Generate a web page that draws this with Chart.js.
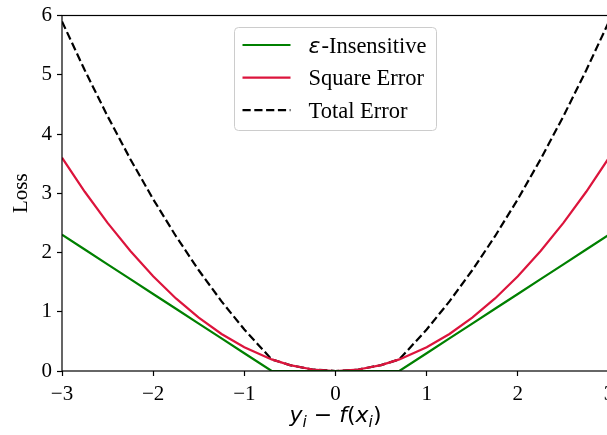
<!DOCTYPE html>
<html>
<head>
<meta charset="utf-8">
<script src="https://cdn.jsdelivr.net/npm/chart.js@4.4.1/dist/chart.umd.min.js"></script>
<style>
  html, body { margin: 0; padding: 0; background: #fff; overflow: hidden; }
  #wrap { width: 630px; height: 435px; }
</style>
</head>
<body>
<div id="wrap"><canvas id="c" width="630" height="435"></canvas></div>
<script>
// Residual values y - f(x) at which the losses are evaluated
const residuals = [-3, -2.75, -2.5, -2.25, -2, -1.75, -1.5, -1.25, -1, -0.7, -0.5, -0.25, 0,
                   0.25, 0.5, 0.7, 1, 1.25, 1.5, 1.75, 2, 2.25, 2.5, 2.75, 3];
// epsilon-insensitive loss (flat inside the tube |r| < 0.7)
const epsInsensitive = [2.3, 2.05, 1.8, 1.55, 1.3, 1.05, 0.8, 0.55, 0.3, 0, 0, 0, 0,
                        0, 0, 0, 0.3, 0.55, 0.8, 1.05, 1.3, 1.55, 1.8, 2.05, 2.3];
// square error term
const squareError = [3.6, 3.025, 2.5, 2.025, 1.6, 1.225, 0.9, 0.625, 0.4, 0.196, 0.1, 0.025, 0,
                     0.025, 0.1, 0.196, 0.4, 0.625, 0.9, 1.225, 1.6, 2.025, 2.5, 3.025, 3.6];
// total error (sum of both terms)
const totalError = [5.9, 5.075, 4.3, 3.575, 2.9, 2.275, 1.7, 1.175, 0.7, 0.196, 0.1, 0.025, 0,
                    0.025, 0.1, 0.196, 0.7, 1.175, 1.7, 2.275, 2.9, 3.575, 4.3, 5.075, 5.9];
const seriesLabels = ['ε-Insensitive', 'Square Error', 'Total Error'];
const xTickLabels = ['−3', '−2', '−1', '0', '1', '2', '3'];
const yTickLabels = ['0', '1', '2', '3', '4', '5', '6'];

const SERIF = "'Liberation Serif', 'Times New Roman', serif";
const SANS = "'DejaVu Sans', sans-serif";

const points = vals => residuals.map((r, i) => ({ x: r, y: vals[i] }));

// Axes frame drawn above the lines
const framePlugin = {
  id: 'frame',
  afterDatasetsDraw(chart) {
    const { ctx, chartArea: a } = chart;
    ctx.save();
    ctx.strokeStyle = '#000';
    ctx.lineWidth = 1.2;
    ctx.strokeRect(a.left, a.top, a.right - a.left, a.bottom - a.top);
    ctx.restore();
  }
};

// Legend box in the upper centre of the plot area
const legendPlugin = {
  id: 'boxLegend',
  afterDatasetsDraw(chart) {
    const { ctx, chartArea: a } = chart;
    const w = 202, h = 103;
    const x = (a.left + a.right) / 2 - w / 2;
    const y = a.top + 12;
    ctx.save();
    ctx.beginPath();
    ctx.roundRect(x, y, w, h, 4);
    ctx.fillStyle = 'rgba(255,255,255,0.8)';
    ctx.fill();
    ctx.strokeStyle = '#cccccc';
    ctx.lineWidth = 1;
    ctx.stroke();
    chart.data.datasets.forEach((ds, i) => {
      const cy = y + 17.5 + i * 32.6;
      ctx.beginPath();
      ctx.setLineDash(ds.borderDash || []);
      ctx.strokeStyle = ds.borderColor;
      ctx.lineWidth = ds.borderWidth;
      ctx.moveTo(x + 8, cy);
      ctx.lineTo(x + 56, cy);
      ctx.stroke();
      ctx.setLineDash([]);
      ctx.fillStyle = '#000';
      ctx.textBaseline = 'alphabetic';
      let tx = x + 74;
      let label = ds.label;
      const base = cy + 7.5;
      if (label.startsWith('ε')) {
        ctx.font = 'italic 22px ' + SANS;
        ctx.fillText('ε', tx, base);
        tx += ctx.measureText('ε').width + 1;
        label = label.slice(1);
      }
      ctx.font = '22.5px ' + SERIF;
      ctx.fillText(label, tx, base);
    });
    ctx.restore();
  }
};

// x-axis label  y_i − f(x_i)  with subscripts
const xTitlePlugin = {
  id: 'xTitle',
  afterDraw(chart) {
    const { ctx, chartArea: a } = chart;
    const big = 'px ' + SANS;
    const parts = [
      { t: 'y', f: 'italic 22' + big, dy: 0 },
      { t: 'i', f: 'italic 15.5' + big, dy: 4.5 },
      { t: ' − ', f: '22' + big, dy: 0 },
      { t: 'f', f: 'italic 22' + big, dy: 0 },
      { t: '(', f: '22' + big, dy: 0 },
      { t: 'x', f: 'italic 22' + big, dy: 0 },
      { t: 'i', f: 'italic 15.5' + big, dy: 4.5 },
      { t: ')', f: '22' + big, dy: 0 }
    ];
    ctx.save();
    let total = 0;
    parts.forEach(p => { ctx.font = p.f; p.w = ctx.measureText(p.t).width; total += p.w; });
    let px = (a.left + a.right) / 2 - total / 2;
    const base = 422;
    ctx.fillStyle = '#000';
    ctx.textBaseline = 'alphabetic';
    parts.forEach(p => { ctx.font = p.f; ctx.fillText(p.t, px, base + p.dy); px += p.w; });
    ctx.restore();
  }
};

new Chart(document.getElementById('c'), {
  type: 'line',
  data: {
    datasets: [
      { label: seriesLabels[0], data: points(epsInsensitive), borderColor: '#008000', borderWidth: 2.2 },
      { label: seriesLabels[1], data: points(squareError), borderColor: '#dc143c', borderWidth: 2.2 },
      { label: seriesLabels[2], data: points(totalError), borderColor: '#000000', borderWidth: 2.2, borderDash: [8.2, 3.6] }
    ]
  },
  options: {
    responsive: false,
    devicePixelRatio: 1,
    animation: false,
    elements: { point: { radius: 0 }, line: { tension: 0, fill: false } },
    layout: { padding: { top: 15, right: 21, left: 0, bottom: 0 } },
    plugins: { legend: { display: false }, tooltip: { enabled: false } },
    scales: {
      x: {
        type: 'linear', min: -3, max: 3,
        border: { display: false },
        grid: { drawOnChartArea: false, drawTicks: true, tickLength: 5, tickColor: '#000', tickWidth: 1.2 },
        ticks: {
          stepSize: 1, color: '#000', padding: 8, maxRotation: 0,
          font: { family: SERIF, size: 21, lineHeight: 1 },
          callback: (v) => xTickLabels[Math.round(v) + 3]
        },
        afterFit: (s) => { s.height = 64; }
      },
      y: {
        min: 0, max: 6,
        border: { display: false },
        grid: { drawOnChartArea: false, drawTicks: true, tickLength: 5, tickColor: '#000', tickWidth: 1.2 },
        ticks: {
          stepSize: 1, color: '#000', padding: 5,
          font: { family: SERIF, size: 21, lineHeight: 1 },
          callback: (v) => yTickLabels[Math.round(v)]
        },
        title: { display: true, text: 'Loss', color: '#000', font: { family: SERIF, size: 21 }, padding: { top: 9, bottom: 0 } },
        afterFit: (s) => { s.width = 62; }
      }
    }
  },
  plugins: [framePlugin, legendPlugin, xTitlePlugin]
});
</script>
</body>
</html>
